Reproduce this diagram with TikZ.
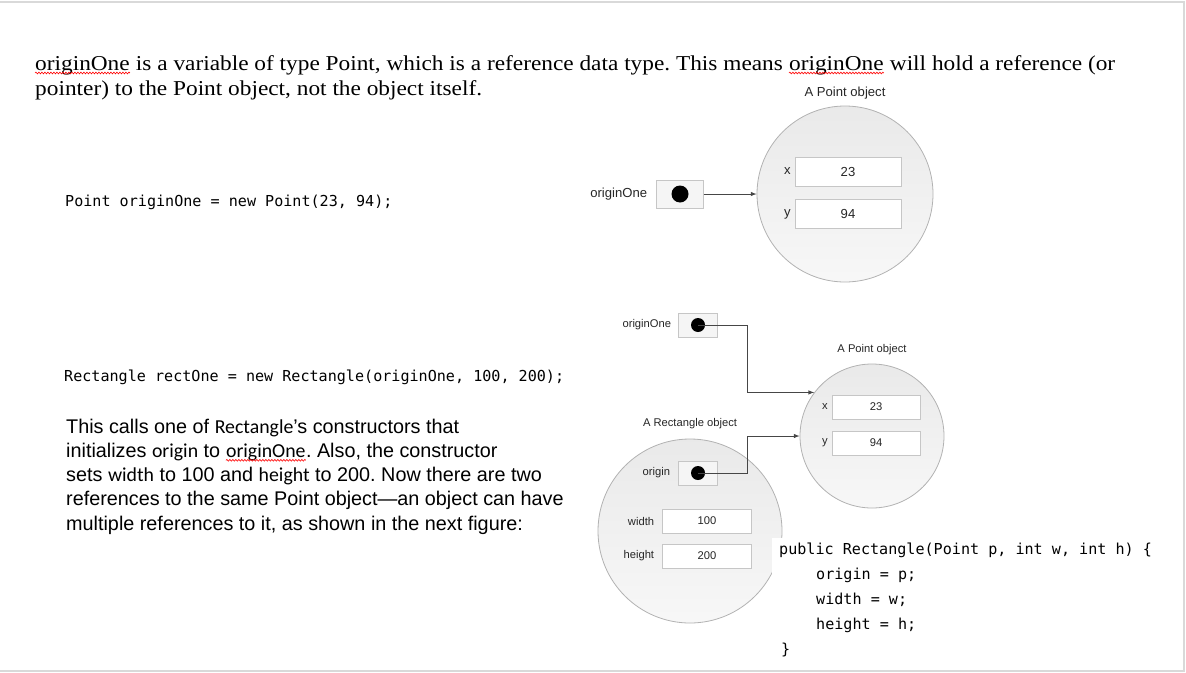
\documentclass[tikz,border=0pt]{standalone}
\usepackage{fontspec}
\setmainfont{Liberation Serif}
\setsansfont{Liberation Sans}
\setmonofont{DejaVu Sans Mono}
\newfontfamily\calibri{Carlito}
\newfontfamily\titlefont[FakeStretch=1.1]{Liberation Serif}
\usetikzlibrary{positioning, decorations.pathmorphing}
\frenchspacing

\tikzset{
    objcirc/.style={circle, draw=gray!60, top color=gray!17, bottom color=gray!6, line width=0.8pt, inner sep=0pt},
    field/.style={rectangle, draw=gray!45, fill=white, inner sep=0pt, text=black!85,
        path picture={\draw[gray!75!black, line width=1.4pt]
            (path picture bounding box.south west) -- (path picture bounding box.north west);}},
    ptrbox/.style={rectangle, draw=gray!45, fill=gray!8, inner sep=0pt},
    refdot/.style={circle, fill=black, inner sep=0pt},
    fieldlbl/.style={inner sep=0pt, text=black!85},
    ptrline/.style={draw=gray!55!black, line width=1pt, -latex},
    textline/.style={anchor=base west, inner sep=0pt},
    spell/.style={draw=red, line width=0.6pt, decorate,
        decoration={snake, amplitude=0.9pt, segment length=3pt}},
}

\begin{document}
\begin{tikzpicture}[x=1pt, y=-1pt]
    \useasboundingbox (0,0) rectangle (1186,672);

    % --- page frame ---
    \draw[gray!30, line width=2pt] (0,2) -- (1184,2) -- (1184,671) -- (0,671);

    % --- intro paragraph ---
    \begin{scope}[every node/.style={textline, font=\titlefont\fontsize{21.2}{25}\selectfont}]
        \node (intro1a) at (35,70) {originOne};
        \node (intro1b) at (intro1a.base east) {\ is a variable of type Point, which is a reference data type. This means\ \mbox{}};
        \node (intro1c) at (intro1b.base east) {originOne};
        \node (intro1d) at (intro1c.base east) {\ will hold a reference (or};
        \node (intro2) at (35,95) {pointer) to the Point object, not the object itself.};
    \end{scope}
    \draw[spell] ([yshift=-3pt]intro1a.base west) -- ([yshift=-3pt]intro1a.base east);
    \draw[spell] ([yshift=-3pt]intro1c.base west) -- ([yshift=-3pt]intro1c.base east);

    % --- the two statements ---
    \node[textline, font=\ttfamily\fontsize{15.1}{18}\selectfont] (stmt1) at (65,206) {Point originOne = new Point(23, 94);};
    \node[textline, font=\ttfamily\fontsize{15.1}{18}\selectfont] (stmt2) at (64,381) {Rectangle rectOne = new Rectangle(originOne, 100, 200);};

    % --- explanation ---
    \begin{scope}[every node/.style={textline, font=\sffamily\fontsize{19.8}{24}\selectfont}]
        \node (expl1) at (66,433.0) {This calls one of {\calibri Rectangle}'s constructors that};
        \node (expl2a) at (66,457.3) {initializes {\calibri origin} to\ \mbox{}};
        \node (expl2b) at (expl2a.base east) {\calibri originOne};
        \node (expl2c) at (expl2b.base east) {. Also, the constructor};
        \node (expl3) at (66,481.6) {sets {\calibri width} to 100 and {\calibri height} to 200. Now there are two};
        \node (expl4) at (66,505.9) {references to the same Point object—an object can have};
        \node (expl5) at (66,530.2) {multiple references to it, as shown in the next figure:};
    \end{scope}
    \draw[spell] ([yshift=-3pt]expl2b.base west) -- ([yshift=-3pt]expl2b.base east);

    % --- first figure: originOne -> Point object ---
    \begin{scope}[font=\sffamily\fontsize{13.1}{15}\selectfont]
        \node[objcirc, minimum size=176] (pt1) at (845,194) {};
        \node[fieldlbl, above=6pt of pt1] (pt1lbl) {A Point object};
        \node[field, minimum width=106, minimum height=29] (pt1x) at (848,171.5) {23};
        \node[field, minimum width=106, minimum height=29] (pt1y) at (848,214) {94};
        \node[fieldlbl, left=4pt of pt1x] (pt1xlbl) {x};
        \node[fieldlbl, left=4pt of pt1y] (pt1ylbl) {y};
        \node[ptrbox, minimum width=47, minimum height=28] (ref1) at (680,194) {};
        \node[refdot, minimum size=17] (ref1dot) at (ref1) {};
        \node[fieldlbl, left=9pt of ref1] (ref1lbl) {originOne};
        \draw[ptrline] (ref1) -- (pt1);
    \end{scope}

    % --- second figure: originOne and rectOne.origin -> same Point ---
    \begin{scope}[font=\sffamily\fontsize{11.2}{13}\selectfont]
        \node[objcirc, minimum size=144] (pt2) at (872,436) {};
        \node[fieldlbl, above=9pt of pt2] (pt2lbl) {A Point object};
        \node[field, minimum width=88, minimum height=24] (pt2x) at (876,407) {23};
        \node[field, minimum width=88, minimum height=24] (pt2y) at (876,443) {94};
        \node[fieldlbl, left=4pt of pt2x] (pt2xlbl) {x};
        \node[fieldlbl, left=4pt of pt2y] (pt2ylbl) {y};

        \node[objcirc, minimum size=184] (rect) at (690,531) {};
        \node[fieldlbl, above=10pt of rect] (rectlbl) {A Rectangle object};
        \node[ptrbox, minimum width=39, minimum height=24] (orig) at (698,473) {};
        \node[refdot, minimum size=14] (origdot) at (orig) {};
        \node[fieldlbl, left=8pt of orig] (origlbl) {origin};
        \node[field, minimum width=89, minimum height=24] (wid) at (707,521) {100};
        \node[field, minimum width=89, minimum height=24] (hgt) at (707,556) {200};
        \node[fieldlbl, left=8pt of wid] (widlbl) {width};
        \node[fieldlbl, left=8pt of hgt] (hgtlbl) {height};

        \node[ptrbox, minimum width=39, minimum height=24] (ref2) at (698,325) {};
        \node[refdot, minimum size=14] (ref2dot) at (ref2) {};
        \node[fieldlbl, left=7pt of ref2] (ref2lbl) {originOne};

        \coordinate (bend1) at (747,325);
        \coordinate (bend2) at (747,473);
        \draw[ptrline] (ref2dot.center) -- (bend1) |- (pt2.143);
        \draw[ptrline] (origdot.center) -- (bend2) |- (pt2.west);
    \end{scope}

    % --- constructor code ---
    \node[fill=white, inner sep=0pt, minimum width=400, minimum height=128, anchor=north west] (ctorbg) at (772,538) {};
    \begin{scope}[every node/.style={textline, font=\ttfamily\fontsize{15.1}{18}\selectfont}]
        \node (ctor1) at (779,554) {public Rectangle(Point p, int w, int h) \{};
        \node (ctor2) at (816,579) {origin = p;};
        \node (ctor3) at (816,604) {width = w;};
        \node (ctor4) at (816,629) {height = h;};
        \node (ctor5) at (781,654) {\}};
    \end{scope}
\end{tikzpicture}
\end{document}
